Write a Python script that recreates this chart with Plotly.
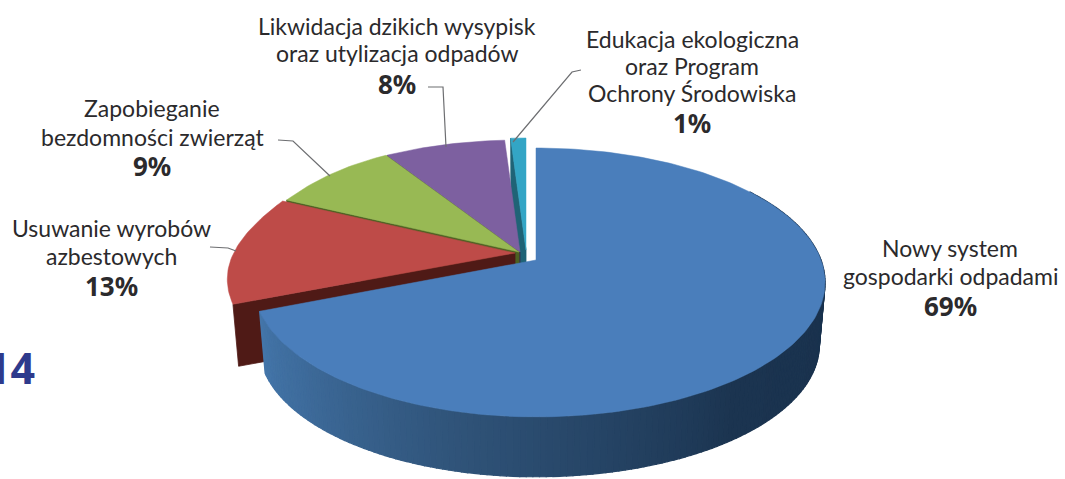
import math
import plotly.graph_objects as go

# ---- data ----
categories = ["Nowy system gospodarki odpadami", "Usuwanie wyrobów azbestowych",
              "Zapobieganie bezdomności zwierząt", "Likwidacja dzikich wysypisk oraz utylizacja odpadów",
              "Edukacja ekologiczna oraz Program Ochrony Środowiska"]
values = [69, 13, 9, 8, 1]
percent_labels = ["69%", "13%", "9%", "8%", "1%"]
label_lines = [["Nowy system", "gospodarki odpadami"],
               ["Usuwanie wyrobów", "azbestowych"],
               ["Zapobieganie", "bezdomności zwierząt"],
               ["Likwidacja dzikich wysypisk", "oraz utylizacja odpadów"],
               ["Edukacja ekologiczna", "oraz Program", "Ochrony Środowiska"]]

# ---- style ----
W, H = 1065, 479
top_colors = ["#4a7ebb", "#be4b48", "#98b954", "#7d60a0", "#33a5c5"]
wall_colors = [None, "#4f1a16", "#4c6122", "#38284f", "#1f6376"]
apexes = [(536, 260), (515, 253), (519, 252), (520, 252), (526, 250)]
left_scale = [0.98, 1.0, 1.0, 1.0, 1.0]
RX, RY, P = 285.0, 130.7, 0.167
DEPTH, SHRINK = 63, 0.98
TXT = "#2b2a2c"
FONT = "Lato"
label_pos = [[(950, 248), (950, 276), (950, 306)],
             [(111, 228), (111, 256), (111, 286)],
             [(152, 108), (152, 137), (152, 166)],
             [(397, 26), (397, 53), (397, 84)],
             [(692, 39), (692, 66), (692, 93), (692, 123)]]
leaders = [[(210, 247), (228, 248), (236, 251)],
           [(278, 140), (293, 141), (330, 176)],
           [(428, 87), (443, 87), (446, 147)],
           [(581, 70), (572, 72), (513, 142)]]


def project(theta, apex, lower=False, lscale=1.0):
    X, Y = math.sin(theta), math.cos(theta)
    d = 1 + P * Y
    dx, dy = RX * X / d, -RY * Y / d
    if X < 0:
        deg = math.degrees(theta)
        dx *= lscale * (1 - 0.035 * math.exp(-((deg - 295) / 25) ** 2))
    if lower:
        return apex[0] + SHRINK * dx, apex[1] + DEPTH + SHRINK * dy
    return apex[0] + dx, apex[1] + dy


def mix(stops, t):
    for (t0, c0), (t1, c1) in zip(stops, stops[1:]):
        if t <= t1:
            f = (t - t0) / (t1 - t0)
            return "rgb(%d,%d,%d)" % tuple(round(a + (b - a) * f) for a, b in zip(c0, c1))
    return "rgb(%d,%d,%d)" % stops[-1][1]


blue_wall = [(0.0, (28, 58, 90)), (0.12, (24, 48, 76)), (0.45, (27, 52, 80)),
             (0.72, (48, 84, 122)), (0.9, (62, 108, 156)), (1.0, (68, 118, 170))]

fig = go.Figure()


def poly(pts, color, line=0.8):
    fig.add_trace(go.Scatter(x=[p[0] for p in pts] + [pts[0][0]], y=[p[1] for p in pts] + [pts[0][1]],
                             mode="lines", fill="toself", fillcolor=color,
                             line=dict(color=color, width=line), hoverinfo="skip", showlegend=False))


total = sum(values)
starts, s = [], 0.0
for v in values:
    starts.append(s)
    s += v / total * 2 * math.pi

# painter's order: back slices first, blue last
for i in range(len(values) - 1, -1, -1):
    a0, a1 = starts[i], starts[i] + values[i] / total * 2 * math.pi
    apex = apexes[i]
    ls = left_scale[i]
    n = max(6, int((a1 - a0) / 0.02))
    thetas = [a0 + (a1 - a0) * k / n for k in range(n + 1)]
    if i > 0:
        # cut face on the starting radius
        poly([apex, project(a0, apex), project(a0, apex, True), (apex[0], apex[1] + DEPTH)], wall_colors[i])
    else:
        vis = [t for t in thetas if t > math.radians(55)]
        for t0, t1 in zip(vis, vis[1:]):
            col = mix(blue_wall, (t0 - vis[0]) / (vis[-1] - vis[0]))
            poly([project(t0, apex, False, ls), project(t1, apex, False, ls),
                  project(t1, apex, True, ls), project(t0, apex, True, ls)], col, 1.2)
    poly([apex] + [project(t, apex, False, ls) for t in thetas], top_colors[i], 0.5)

annotations = []
for i, lines in enumerate(label_lines):
    for j, line in enumerate(lines + [percent_labels[i]]):
        bold = j == len(lines)
        x, y = label_pos[i][j]
        annotations.append(dict(x=x, y=y, xref="x", yref="y", showarrow=False, xanchor="center", yanchor="middle",
                                text="<b>%s</b>" % line if bold else line,
                                font=dict(family="Noto Sans" if bold else FONT, size=26 if bold else 23, color=TXT)))
annotations.append(dict(x=37, y=367, xref="x", yref="y", showarrow=False, xanchor="right", yanchor="middle",
                        text="<b>14</b>", font=dict(family="Noto Sans", size=43, color="#2e3a8c")))

shapes = [dict(type="path", xref="x", yref="y",
               path="M " + " L ".join("%d,%d" % p for p in pts),
               line=dict(color="#6d6e71", width=1.2), layer="above") for pts in leaders]

fig.update_layout(width=W, height=H, margin=dict(l=0, r=0, t=0, b=0), paper_bgcolor="white", plot_bgcolor="white",
                  showlegend=False, annotations=annotations, shapes=shapes,
                  xaxis=dict(range=[0, W], visible=False, fixedrange=True),
                  yaxis=dict(range=[H, 0], visible=False, fixedrange=True))
fig.write_html("out.html", config={"displayModeBar": False},
               post_script="document.body.style.margin='0';document.documentElement.style.overflow='hidden';")
